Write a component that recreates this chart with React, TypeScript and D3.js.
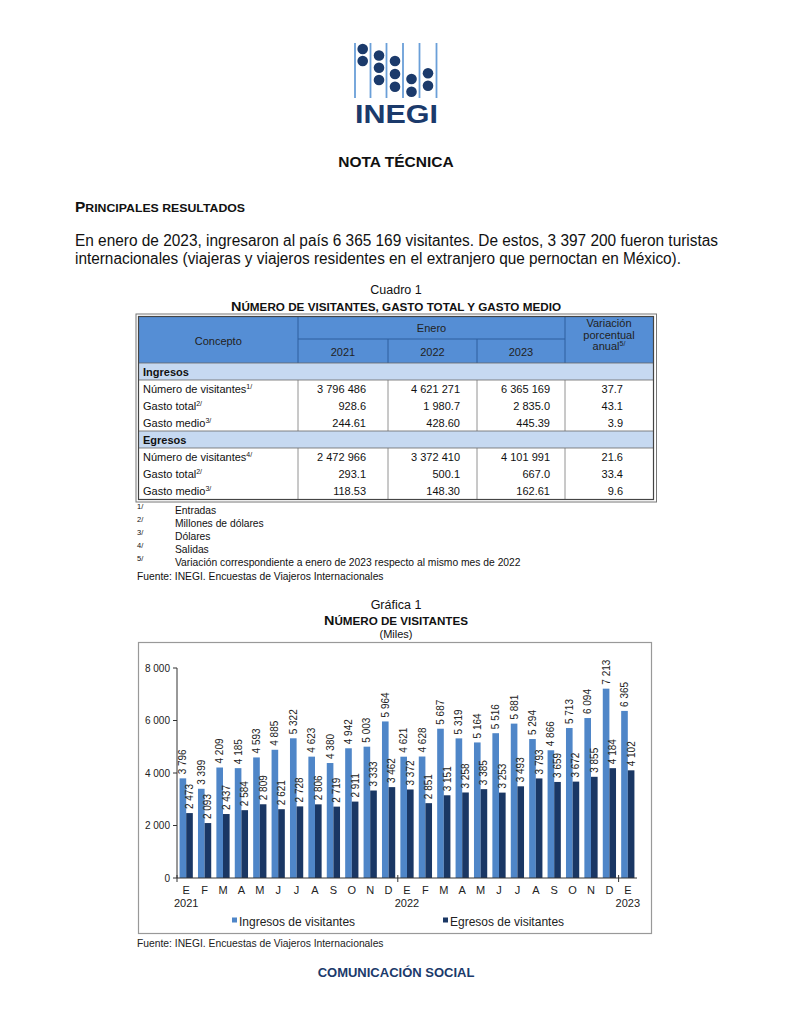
import React from "react";
import * as d3 from "d3";

// chart data (miles de visitantes)
const months = ["E", "F", "M", "A", "M", "J", "J", "A", "S", "O", "N", "D", "E", "F", "M", "A", "M", "J", "J", "A", "S", "O", "N", "D", "E"];
const ingresos = [3796, 3399, 4209, 4185, 4593, 4885, 5322, 4623, 4380, 4942, 5003, 5964, 4621, 4628, 5687, 5319, 5164, 5516, 5881, 5294, 4866, 5713, 6094, 7213, 6365];
const egresos = [2473, 2093, 2437, 2584, 2809, 2621, 2728, 2806, 2719, 2911, 3333, 3462, 3372, 2851, 3151, 3258, 3385, 3253, 3493, 3793, 3659, 3672, 3855, 4184, 4102];
const yTicks = [0, 2000, 4000, 6000, 8000];
const yearLabels = ["2021", "2022", "2023"];
const yearStarts = [0, 12, 24];
const seriesNames = ["Ingresos de visitantes", "Egresos de visitantes"];

// table data
const tableYears = ["2021", "2022", "2023"];
const ingresosRows = [
  { label: "Número de visitantes", note: "1/", values: ["3 796 486", "4 621 271", "6 365 169", "37.7"] },
  { label: "Gasto total", note: "2/", values: ["928.6", "1 980.7", "2 835.0", "43.1"] },
  { label: "Gasto medio", note: "3/", values: ["244.61", "428.60", "445.39", "3.9"] },
];
const egresosRows = [
  { label: "Número de visitantes", note: "4/", values: ["2 472 966", "3 372 410", "4 101 991", "21.6"] },
  { label: "Gasto total", note: "2/", values: ["293.1", "500.1", "667.0", "33.4"] },
  { label: "Gasto medio", note: "3/", values: ["118.53", "148.30", "162.61", "9.6"] },
];
const footnotes = [
  ["1/", "Entradas"],
  ["2/", "Millones de dólares"],
  ["3/", "Dólares"],
  ["4/", "Salidas"],
  ["5/", "Variación correspondiente a enero de 2023 respecto al mismo mes de 2022"],
];
const fuente = "Fuente: INEGI. Encuestas de Viajeros Internacionales";

const SANS = "'Liberation Sans', Arial, sans-serif";
const NAVY = "#1b3a6b";
const LIGHT = "#4f86c8";
const DARK = "#1a3764";
const HEAD = "#558ed5";
const BAND = "#c6d9f1";

const fmt = d3.formatLocale({ decimal: ".", thousands: " ", grouping: [3], currency: ["", ""] }).format(",d");

const Logo = () => {
  const lineX = [355, 370.5, 386.5, 403, 419.5, 436.5];
  const dots: [number, number][] = [
    [362.7, 49], [362.7, 61],
    [379, 55.5], [379, 67.7], [379, 80],
    [395, 61], [395, 74], [395, 86.7],
    [411.5, 79], [411.5, 91.7],
    [428, 73.3], [428, 85.7],
  ];
  return (
    <g>
      {lineX.map((x, i) => (
        <line key={i} x1={x} x2={x} y1={43} y2={98} stroke="#6a9fd8" strokeWidth={1.8} />
      ))}
      {dots.map(([x, y], i) => (
        <circle key={i} cx={x} cy={y} r={5.3} fill={NAVY} />
      ))}
      <text x={355} y={123} fontFamily={SANS} fontWeight="bold" fontSize={26} fill={NAVY}
        textLength={83} lengthAdjust="spacingAndGlyphs">INEGI</text>
    </g>
  );
};

const Sup = ({ t }: { t: string }) => (
  <tspan dy={-4} fontSize={7}>{t}</tspan>
);

const Table = () => {
  const colEdges = [138.5, 298, 388, 477, 565, 653.5];
  const valueRight = [366, 460, 550, 623];
  const top = 316.5;
  const mid = 339;
  const headBottom = 363;
  const rowH = 17;
  const groups = [
    { title: "Ingresos", rows: ingresosRows, y: headBottom },
    { title: "Egresos", rows: egresosRows, y: headBottom + rowH * 4 },
  ];
  const bottom = headBottom + rowH * 8 + 0.5;
  return (
    <g fontFamily={SANS} fontSize={11} fill="#111">
      <rect x={colEdges[0]} y={top} width={colEdges[5] - colEdges[0]} height={headBottom - top} fill={HEAD} />
      <line x1={colEdges[1]} x2={colEdges[4]} y1={mid} y2={mid} stroke="#2f5f9e" />
      <line x1={colEdges[1]} x2={colEdges[1]} y1={top} y2={headBottom} stroke="#2f5f9e" />
      <line x1={colEdges[4]} x2={colEdges[4]} y1={top} y2={headBottom} stroke="#2f5f9e" />
      <line x1={colEdges[2]} x2={colEdges[2]} y1={mid} y2={headBottom} stroke="#2f5f9e" />
      <line x1={colEdges[3]} x2={colEdges[3]} y1={mid} y2={headBottom} stroke="#2f5f9e" />
      <text x={(colEdges[0] + colEdges[1]) / 2} y={345} textAnchor="middle" fill="#222">Concepto</text>
      <text x={(colEdges[1] + colEdges[4]) / 2} y={332} textAnchor="middle" fill="#222">Enero</text>
      {tableYears.map((yr, i) => (
        <text key={yr} x={(colEdges[i + 1] + colEdges[i + 2]) / 2} y={356} textAnchor="middle" fill="#222">{yr}</text>
      ))}
      <text x={609} y={327} textAnchor="middle" fill="#222">Variación</text>
      <text x={609} y={338.5} textAnchor="middle" fill="#222">porcentual</text>
      <text x={609} y={350} textAnchor="middle" fill="#222">anual<Sup t="5/" /></text>
      {groups.map((g) => (
        <g key={g.title}>
          <rect x={colEdges[0]} y={g.y} width={colEdges[5] - colEdges[0]} height={rowH} fill={BAND} stroke="#666" strokeWidth={0.8} />
          <text x={143} y={g.y + 12.5} fontWeight="bold">{g.title}</text>
          {colEdges.slice(1, 5).map((x, i) => (
            <line key={i} x1={x} x2={x} y1={g.y + rowH} y2={g.y + rowH * 4} stroke="#777" strokeWidth={0.8} />
          ))}
          {g.rows.map((r, j) => {
            const y = g.y + rowH * (j + 1) + 12.5;
            return (
              <g key={j}>
                <text x={143} y={y}>{r.label}<Sup t={r.note} /></text>
                {r.values.map((v, k) => (
                  <text key={k} x={valueRight[k]} y={y} textAnchor="end">{v}</text>
                ))}
              </g>
            );
          })}
        </g>
      ))}
      <rect x={colEdges[0]} y={top} width={colEdges[5] - colEdges[0]} height={bottom - top} fill="none" stroke="#444" strokeWidth={1.2} />
      <rect x={136} y={314} width={520.5} height={bottom - top + 5} fill="none" stroke="#777" strokeWidth={1} />
      {footnotes.map(([n, t], i) => {
        const y = 514 + i * 13;
        return (
          <g key={n} fontSize={10.3}>
            <text x={137} y={y - 5} fontSize={7.5}>{n}</text>
            <text x={175} y={y}>{t}</text>
          </g>
        );
      })}
      <text x={137} y={580} fontSize={10.3}>{fuente}</text>
    </g>
  );
};

const Chart = () => {
  const x0 = d3.scaleBand<number>().domain(d3.range(months.length)).range([177, 637]).paddingInner(0.28).paddingOuter(0.14);
  const x1 = d3.scaleBand<string>().domain(["ing", "egr"]).range([0, x0.bandwidth()]);
  const y = d3.scaleLinear().domain([0, 8000]).range([878, 668]);
  const boundary = (i: number) => (i === 0 ? 177 : (x0(i) ?? 0) - (x0.step() * x0.paddingInner()) / 2);
  const series = [
    { key: "ing", data: ingresos, color: LIGHT },
    { key: "egr", data: egresos, color: DARK },
  ];
  return (
    <g fontFamily={SANS} fill="#222">
      <rect x={138.5} y={642.5} width={513} height={291} fill="#fff" stroke="#999" strokeWidth={1.2} />
      {series.map((s) => (
        <g key={s.key}>
          {s.data.map((v, i) => {
            const bx = (x0(i) ?? 0) + (x1(s.key) ?? 0);
            return (
              <g key={i}>
                <rect x={bx} y={y(v)} width={x1.bandwidth()} height={y(0) - y(v)} fill={s.color} />
                <text transform={`translate(${bx + x1.bandwidth() / 2 + 3.5},${y(v) - 4}) rotate(-90)`} fontSize={10}>
                  {fmt(v)}
                </text>
              </g>
            );
          })}
        </g>
      ))}
      <line x1={177} x2={177} y1={y(8000)} y2={y(0)} stroke="#333" />
      {yTicks.map((t) => (
        <g key={t}>
          <line x1={173} x2={177} y1={y(t)} y2={y(t)} stroke="#333" />
          <text x={170} y={y(t) + 3.5} textAnchor="end" fontSize={10}>{fmt(t)}</text>
        </g>
      ))}
      <line x1={177} x2={637} y1={y(0)} y2={y(0)} stroke="#333" />
      {yearStarts.map((i) => (
        <line key={i} x1={boundary(i)} x2={boundary(i)} y1={y(0) - 3} y2={y(0) + 4} stroke="#333" />
      ))}
      {months.map((m, i) => (
        <text key={i} x={(x0(i) ?? 0) + x0.bandwidth() / 2} y={894} textAnchor="middle" fontSize={11}>{m}</text>
      ))}
      {yearLabels.map((yr, i) => (
        <text key={yr} x={(x0(yearStarts[i]) ?? 0) + x0.bandwidth() / 2} y={907} textAnchor="middle" fontSize={11}>{yr}</text>
      ))}
      {seriesNames.map((n, i) => {
        const lx = i === 0 ? 232 : 443;
        return (
          <g key={n}>
            <rect x={lx} y={917.5} width={5} height={5} fill={series[i].color} />
            <text x={lx + 7} y={925.5} fontSize={12}>{n}</text>
          </g>
        );
      })}
      <text x={137} y={947} fontSize={10.3}>{fuente}</text>
    </g>
  );
};

export default function App() {
  return (
    <div style={{ position: "absolute", left: 0, top: 0 }}>
      <svg width={791} height={1024} style={{ display: "block", background: "#fff" }}>
        <Logo />
        <text x={396} y={166.5} textAnchor="middle" fontFamily={SANS} fontWeight="bold" fontSize={15.5} fill="#111">NOTA TÉCNICA</text>
        <text x={75} y={212} fontFamily={SANS} fontWeight="bold" fill="#111" textLength={170} lengthAdjust="spacingAndGlyphs">
          <tspan fontSize={14.5}>P</tspan><tspan fontSize={11.5}>RINCIPALES RESULTADOS</tspan>
        </text>
        <g fontFamily={SANS} fontSize={16} fill="#111">
          <text x={75} y={246} textLength={643} lengthAdjust="spacingAndGlyphs">
            En enero de 2023, ingresaron al país 6 365 169 visitantes. De estos, 3 397 200 fueron turistas
          </text>
          <text x={75} y={264} textLength={606} lengthAdjust="spacingAndGlyphs">
            internacionales (viajeras y viajeros residentes en el extranjero que pernoctan en México).
          </text>
        </g>
        <text x={396} y={294} textAnchor="middle" fontFamily={SANS} fontSize={12.5} fill="#111">Cuadro 1</text>
        <text x={396} y={311} textAnchor="middle" fontFamily={SANS} fontWeight="bold" fill="#111" textLength={330} lengthAdjust="spacingAndGlyphs">
          <tspan fontSize={13}>N</tspan><tspan fontSize={10.5}>ÚMERO DE VISITANTES, GASTO TOTAL Y GASTO MEDIO</tspan>
        </text>
        <Table />
        <text x={396} y={609} textAnchor="middle" fontFamily={SANS} fontSize={12.5} fill="#111">Gráfica 1</text>
        <text x={396} y={625} textAnchor="middle" fontFamily={SANS} fontWeight="bold" fill="#111" textLength={144} lengthAdjust="spacingAndGlyphs">
          <tspan fontSize={13}>N</tspan><tspan fontSize={10.5}>ÚMERO DE VISITANTES</tspan>
        </text>
        <text x={396} y={638} textAnchor="middle" fontFamily={SANS} fontSize={11} fill="#111">(Miles)</text>
        <Chart />
        <text x={396} y={977} textAnchor="middle" fontFamily={SANS} fontWeight="bold" fontSize={13} fill={NAVY}>COMUNICACIÓN SOCIAL</text>
      </svg>
    </div>
  );
}
